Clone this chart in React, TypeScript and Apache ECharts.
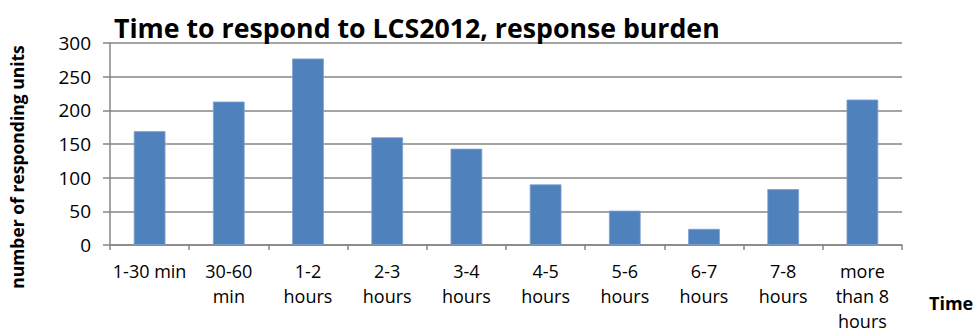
import React, { useEffect, useRef } from "react";
import * as echarts from "echarts";

const categories = [
  "1-30 min",
  "30-60\nmin",
  "1-2\nhours",
  "2-3\nhours",
  "3-4\nhours",
  "4-5\nhours",
  "5-6\nhours",
  "6-7\nhours",
  "7-8\nhours",
  "more\nthan 8\nhours",
];
const respondingUnits = [169, 213, 277, 160, 143, 90, 51, 24, 83, 216];
const yTicks = { min: 0, max: 300, interval: 50 };

const titleText = "Time to respond to LCS2012, response burden";
const yAxisTitle = "number of responding units";
const xAxisTitle = "Time";

const FONT = "'Open Sans', 'DejaVu Sans', sans-serif";
const GRID_GRAY = "#868686";

export default function App() {
  const ref = useRef<HTMLDivElement>(null);

  useEffect(() => {
    if (!ref.current) return;
    const chart = echarts.init(ref.current, undefined, { renderer: "svg" });
    chart.setOption({
      animation: false,
      backgroundColor: "#ffffff",
      textStyle: { fontFamily: FONT },
      title: {
        text: titleText,
        left: 114,
        top: 14,
        padding: 0,
        textStyle: {
          fontFamily: FONT,
          fontSize: 26.7,
          fontWeight: "bold",
          color: "#000",
        },
      },
      grid: { left: 110, right: 72, top: 43, bottom: 84, containLabel: false },
      xAxis: {
        type: "category",
        data: categories,
        axisLine: { lineStyle: { color: GRID_GRAY, width: 1.5 } },
        axisTick: {
          show: true,
          alignWithLabel: false,
          length: 5,
          lineStyle: { color: GRID_GRAY, width: 1.5 },
        },
        axisLabel: {
          interval: 0,
          margin: 13,
          color: "#000",
          fontFamily: FONT,
          fontSize: 18,
          lineHeight: 25,
        },
      },
      yAxis: {
        type: "value",
        min: yTicks.min,
        max: yTicks.max,
        interval: yTicks.interval,
        axisLine: { show: true, lineStyle: { color: GRID_GRAY, width: 1.5 } },
        axisTick: {
          show: true,
          length: 7,
          lineStyle: { color: GRID_GRAY, width: 1.5 },
        },
        splitLine: { lineStyle: { color: GRID_GRAY, width: 1.5 } },
        axisLabel: {
          margin: 19,
          color: "#000",
          fontFamily: FONT,
          fontSize: 19,
        },
      },
      graphic: [
        {
          type: "text",
          x: 17,
          y: 167,
          rotation: Math.PI / 2,
          style: {
            text: yAxisTitle,
            fontFamily: FONT,
            fontSize: 17.5,
            fontWeight: "bold",
            fill: "#000",
            align: "center",
            verticalAlign: "middle",
          },
        },
        {
          type: "text",
          x: 929,
          y: 303,
          style: {
            text: xAxisTitle,
            fontFamily: FONT,
            fontSize: 18,
            fontWeight: "bold",
            fill: "#000",
            align: "left",
            verticalAlign: "middle",
          },
        },
      ],
      series: [
        {
          type: "bar",
          data: respondingUnits,
          barCategoryGap: "60%",
          itemStyle: { color: "#4F81BD", borderColor: "#7DA2CE", borderWidth: 0.8 },
        },
      ],
    });
    return () => chart.dispose();
  }, []);

  return (
    <div
      ref={ref}
      style={{ position: "fixed", left: 0, top: 0, width: 974, height: 333 }}
    />
  );
}
